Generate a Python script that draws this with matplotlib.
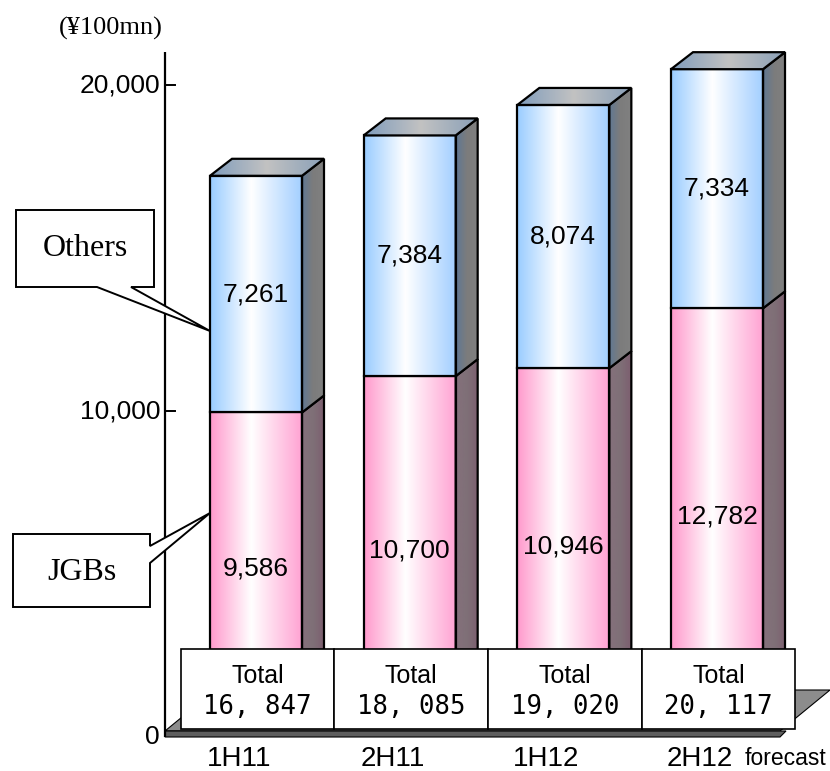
import numpy as np
import matplotlib
matplotlib.use("Agg")
import matplotlib.pyplot as plt
from matplotlib.patches import Polygon, Rectangle
from matplotlib.colors import LinearSegmentedColormap

# ---- data ----
periods = ["1H11", "2H11", "1H12", "2H12"]
jgbs = [9586, 10700, 10946, 12782]
others = [7261, 7384, 8074, 7334]
totals = [16847, 18085, 19020, 20117]
y_ticks = [10000, 20000]
unit_label = "(¥100mn)"

# ---- layout (pixel scale of the 830x771 canvas) ----
W_PX, H_PX = 830, 771
CAT_PX = 153.67          # px between categories
CAT0_PX = 256            # px of first bar centre
ZERO_PX = 737            # px of value 0
VAL_PX = 326 / 10000     # px per value unit


def vx(p):  # pixel x -> category units
    return (p - CAT0_PX) / CAT_PX


def vy(p):  # pixel y -> value units
    return (ZERO_PX - p) / VAL_PX


W = 92 / CAT_PX
DX = 22 / CAT_PX
DY = 17 / VAL_PX
BASE = 12 / VAL_PX
AXX = vx(165)

SANS = ["Liberation Sans", "DejaVu Sans"]
SERIF = ["Liberation Serif", "DejaVu Serif"]
MONO = ["DejaVu Sans Mono", "Liberation Mono"]

fig = plt.figure(figsize=(W_PX / 100, H_PX / 100), dpi=100)
ax = fig.add_axes([0, 0, 1, 1])
ax.set_axis_off()


def face(verts, colors, z, lw=1.6):
    xs = [v[0] for v in verts]
    ys = [v[1] for v in verts]
    cmap = LinearSegmentedColormap.from_list("g", colors)
    im = ax.imshow(np.linspace(0, 1, 256)[None, :], cmap=cmap,
                   extent=(min(xs), max(xs), min(ys), max(ys)),
                   aspect="auto", interpolation="bilinear", zorder=z)
    p = Polygon(verts, closed=True, fc="none", ec="black", lw=lw, zorder=z + 0.01)
    ax.add_patch(p)
    im.set_clip_path(p)


PINK = [(0, "#ff99cc"), (0.45, "#ffffff"), (1, "#ffa3d3")]
BLUE = [(0, "#99ccff"), (0.45, "#ffffff"), (1, "#a3cfff")]
BLUE_SIDE = [(0, "#5f7894"), (0.5, "#7c7c7c"), (1, "#808080")]
PINK_SIDE = [(0, "#85707c"), (0.5, "#7f7077"), (1, "#7d5f70")]
TOP = [(0, "#7f9cbc"), (0.5, "#c2c2c2"), (1, "#8aa0b8")]

# ---- floor ----
FT = 6 / VAL_PX
FR = vx(780)
FDX, FDY = 50 / CAT_PX, 41 / VAL_PX
ax.add_patch(Polygon([(AXX, FT), (FR, FT), (FR + FDX, FT + FDY), (AXX + FDX, FT + FDY)],
                     fc="#8c8c8c", ec="black", lw=0.8, zorder=2))
ax.add_patch(Polygon([(AXX, 0), (FR, 0), (FR + 6 / CAT_PX, FT), (AXX, FT)],
                     fc="#5e5e5e", ec="black", lw=0.8, zorder=2))

# ---- bars ----
for i in range(len(periods)):
    x0, x1 = i - W / 2, i + W / 2
    j, t = BASE + jgbs[i], BASE + totals[i]
    face([(x0, BASE), (x1, BASE), (x1, j), (x0, j)], PINK, 3)
    face([(x1, BASE), (x1 + DX, BASE + DY), (x1 + DX, j + DY), (x1, j)], PINK_SIDE, 3)
    face([(x0, j), (x1, j), (x1, t), (x0, t)], BLUE, 3.1)
    face([(x1, j), (x1 + DX, j + DY), (x1 + DX, t + DY), (x1, t)], BLUE_SIDE, 3.1)
    face([(x0, t), (x1, t), (x1 + DX, t + DY), (x0 + DX, t + DY)], TOP, 3.2)
    ax.text(i, BASE + jgbs[i] / 2, f"{jgbs[i]:,}", ha="center", va="center",
            fontsize=19, family=SANS, zorder=4)
    ax.text(i, j + others[i] / 2, f"{others[i]:,}", ha="center", va="center",
            fontsize=19, family=SANS, zorder=4)

    # total box
    ax.add_patch(Rectangle((i - 0.5 + 0.01, vy(729)), 1.0, vy(649) - vy(729),
                           fc="white", ec="black", lw=1.2, zorder=5))
    ax.text(i + 0.01, vy(676), "Total", ha="center", va="center",
            fontsize=18, family=SANS, zorder=6)
    ax.text(i + 0.01, vy(707), f"{totals[i]:,}".replace(",", ", "), ha="center",
            va="center", fontsize=18.5, family=MONO, zorder=6)

    # category label
    ax.text(i - 0.11, vy(766), periods[i], ha="center", va="baseline",
            fontsize=20, family=SANS)

ax.text(vx(745), vy(765), "forecast", ha="left", va="baseline", fontsize=16.5, family=SANS)

# ---- value axis ----
ax.plot([AXX, AXX], [0, vy(52)], color="black", lw=1.6, zorder=4, solid_capstyle="butt")
for v in y_ticks:
    ax.plot([AXX, AXX + 10 / CAT_PX], [v, v], color="black", lw=1.4, zorder=4)
    ax.text(AXX - 5 / CAT_PX, v, f"{v:,}", ha="right", va="center",
            fontsize=19, family=SANS)
ax.text(AXX - 5 / CAT_PX, 0, "0", ha="right", va="center", fontsize=19, family=SANS)
ax.text(vx(111), vy(28), unit_label, ha="center", va="center", fontsize=19, family=SERIF)

# ---- callouts ----
x_tip = -W / 2
ax.add_patch(Polygon([(vx(16), vy(210)), (vx(154), vy(210)), (vx(154), vy(287)),
                      (vx(131), vy(287)), (x_tip, vy(331)), (vx(97), vy(287)),
                      (vx(16), vy(287))],
                     closed=True, fc="white", ec="black", lw=1.4, zorder=6))
ax.text(vx(85), vy(249), "Others", ha="center", va="center", fontsize=23,
        family=SERIF, zorder=7)
ax.add_patch(Polygon([(vx(13), vy(534)), (vx(150), vy(534)), (vx(150), vy(546)),
                      (x_tip, vy(513)), (vx(150), vy(563)), (vx(150), vy(607)),
                      (vx(13), vy(607))],
                     closed=True, fc="white", ec="black", lw=1.4, zorder=6))
ax.text(vx(82), vy(572), "JGBs", ha="center", va="center", fontsize=23,
        family=SERIF, zorder=7)

ax.set_xlim(vx(0), vx(W_PX))
ax.set_ylim(vy(H_PX), vy(0))

fig.savefig("out.png", dpi=100)
